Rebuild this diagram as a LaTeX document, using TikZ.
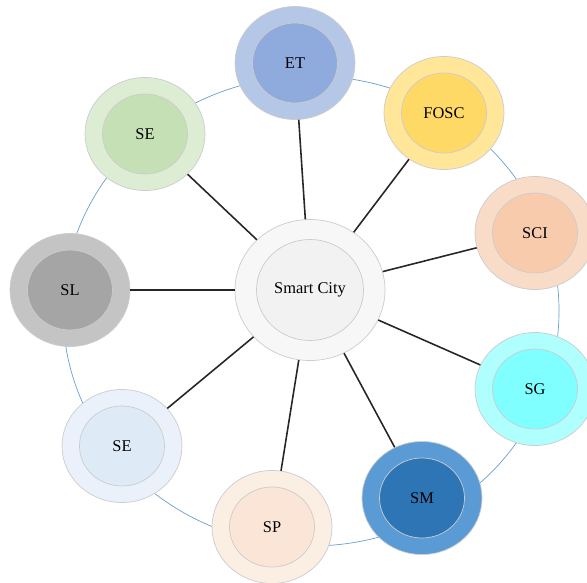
\documentclass[tikz,border=0pt]{standalone}
\usepackage{fontspec}
\setmainfont{Liberation Serif}
\usetikzlibrary{shapes.geometric}

\begin{document}
\begin{tikzpicture}[x=0.03cm, y=-0.03cm,
outernode/.style={ellipse, draw=black!20, line width=0.6pt, fill=#1, minimum width=3.6cm, minimum height=3.39cm, inner sep=0pt},
innernode/.style={ellipse, draw=black!20, line width=0.6pt, fill=#1, minimum width=2.55cm, minimum height=2.4cm, inner sep=0pt, font=\fontsize{14}{16}\selectfont},
spoke/.style={line width=1.35pt, black!85}
]
    \useasboundingbox (0,0) rectangle (587,582);

    % colours of the rings
    \definecolor{etout}{HTML}{B4C7E7}   \definecolor{etin}{HTML}{8FAADC}
    \definecolor{foout}{HTML}{FFE699}   \definecolor{foin}{HTML}{FFD966}
    \definecolor{sciout}{HTML}{F9DCC8}  \definecolor{sciin}{HTML}{F8CBAD}
    \definecolor{sgout}{HTML}{B0FFFF}   \definecolor{sgin}{HTML}{7FFFFF}
    \definecolor{smout}{HTML}{5B9BD5}   \definecolor{smin}{HTML}{2E75B6}
    \definecolor{spout}{HTML}{FBEEE3}   \definecolor{spin}{HTML}{FBE5D6}
    \definecolor{seaout}{HTML}{EAF1FA}  \definecolor{seain}{HTML}{DEEBF7}
    \definecolor{slout}{HTML}{C4C4C4}   \definecolor{slin}{HTML}{A5A5A5}
    \definecolor{sebout}{HTML}{DDEDD4}  \definecolor{sebin}{HTML}{C5E0B4}
    \definecolor{ringblue}{HTML}{6A9FD2}

    \node[ellipse, draw=ringblue, line width=0.6pt, minimum width=14.88cm, minimum height=14.1cm] (ring) at (311,311) {};

    \node[outernode=black!3, minimum width=4.5cm, minimum height=4.23cm] (sc) at (310,290) {};
    \node[innernode=black!5, minimum width=3.21cm, minimum height=3.03cm] (sc-in) at (310,290) {Smart City};

    \node[outernode=etout] (et) at (295,63) {};
    \node[innernode=etin] (et-in) at (295,63) {ET};

    \node[outernode=foout] (fosc) at (444,113) {};
    \node[innernode=foin] (fosc-in) at (444,113) {FOSC};

    \node[outernode=sciout] (sci) at (535,233) {};
    \node[innernode=sciin] (sci-in) at (535,233) {SCI};

    \node[outernode=sgout] (sg) at (535,389) {};
    \node[innernode=sgin] (sg-in) at (535,389) {SG};

    \node[outernode=smout] (sm) at (422,498) {};
    \node[innernode=smin] (sm-in) at (422,498) {SM};

    \node[outernode=spout] (sp) at (272,527) {};
    \node[innernode=spin] (sp-in) at (272,527) {SP};

    \node[outernode=seaout] (se1) at (122,446) {};
    \node[innernode=seain] (se1-in) at (122,446) {SE};

    \node[outernode=slout] (sl) at (70,290) {};
    \node[innernode=slin] (sl-in) at (70,290) {SL};

    \node[outernode=sebout] (se2) at (145,134) {};
    \node[innernode=sebin] (se2-in) at (145,134) {SE};

    \draw[spoke] (sc) edge (et);
    \draw[spoke] (sc) edge (fosc);
    \draw[spoke] (sc) edge (sci);
    \draw[spoke] (sc) edge (sg);
    \draw[spoke] (sc) edge (sm);
    \draw[spoke] (sc) edge (sp);
    \draw[spoke] (sc) edge (se1);
    \draw[spoke] (sc) edge (sl);
    \draw[spoke] (sc) edge (se2);
\end{tikzpicture}
\end{document}
